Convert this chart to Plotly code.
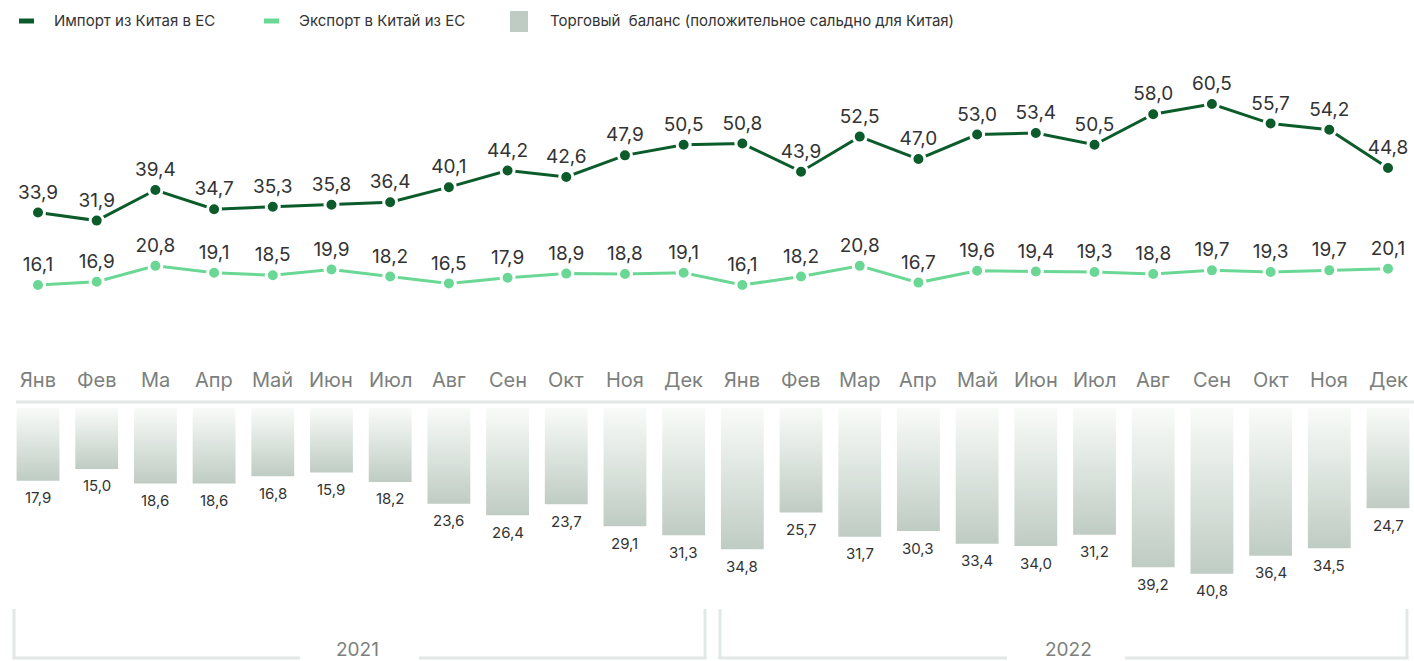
import plotly.graph_objects as go

W, H = 1414, 661

months = ["Янв", "Фев", "Ма", "Апр", "Май", "Июн", "Июл", "Авг", "Сен", "Окт", "Ноя", "Дек",
          "Янв", "Фев", "Мар", "Апр", "Май", "Июн", "Июл", "Авг", "Сен", "Окт", "Ноя", "Дек"]
years = ["2021", "2022"]
imports = [33.9, 31.9, 39.4, 34.7, 35.3, 35.8, 36.4, 40.1, 44.2, 42.6, 47.9, 50.5,
           50.8, 43.9, 52.5, 47.0, 53.0, 53.4, 50.5, 58.0, 60.5, 55.7, 54.2, 44.8]
exports = [16.1, 16.9, 20.8, 19.1, 18.5, 19.9, 18.2, 16.5, 17.9, 18.9, 18.8, 19.1,
           16.1, 18.2, 20.8, 16.7, 19.6, 19.4, 19.3, 18.8, 19.7, 19.3, 19.7, 20.1]
balance = [17.9, 15.0, 18.6, 18.6, 16.8, 15.9, 18.2, 23.6, 26.4, 23.7, 29.1, 31.3,
           34.8, 25.7, 31.7, 30.3, 33.4, 34.0, 31.2, 39.2, 40.8, 36.4, 34.5, 24.7]
legend_labels = ["Импорт из Китая в ЕС", "Экспорт в Китай из ЕС",
                 "Торговый  баланс (положительное сальдно для Китая)"]

C_IMP = "#0c5c2b"
C_EXP = "#6ad894"
C_BAR = "#bfccc3"
C_TXT = "#333333"
C_GRAY = "#7b807d"
C_LINE = "#e2e8e5"
FONT = "Inter, Roboto, sans-serif"


def fmt(v):
    return f"{v:.1f}".replace(".", ",")


def px(x):
    return x / W


def py(y):
    return 1 - y / H


x = list(range(len(months)))
fig = go.Figure()

# balance bars (gradient-filled rectangles hanging down from zero)
half = 0.365
for i, v in enumerate(balance):
    fig.add_trace(go.Scatter(
        x=[i - half, i + half, i + half, i - half, i - half],
        y=[0, 0, -v, -v, 0],
        mode="lines", fill="toself", line=dict(width=0),
        fillgradient=dict(type="vertical", colorscale=[[0, C_BAR], [1, "#f9fbf9"]]),
        yaxis="y2", hoverinfo="skip", showlegend=False))

for vals, col in ((exports, C_EXP), (imports, C_IMP)):
    fig.add_trace(go.Scatter(
        x=x, y=vals, mode="lines+markers+text",
        text=[fmt(v) for v in vals], textposition="top center",
        textfont=dict(size=19, color=C_TXT, family=FONT),
        line=dict(color=col, width=3),
        marker=dict(size=13, color=col, line=dict(color="white", width=3)),
        showlegend=False, cliponaxis=False))

shapes = []
annotations = []

# bar value labels
for i, v in enumerate(balance):
    annotations.append(dict(x=i, y=-v, xref="x", yref="y2", text=fmt(v), yshift=-17,
                            showarrow=False, font=dict(size=15, color=C_TXT, family=FONT),
                            xanchor="center", yanchor="middle"))

# month labels
for i, m in enumerate(months):
    annotations.append(dict(x=i, y=py(380), xref="x", yref="paper", text=m,
                            showarrow=False, font=dict(size=20, color=C_GRAY, family=FONT),
                            xanchor="center", yanchor="middle"))

# zero line for bars
shapes.append(dict(type="line", xref="paper", yref="paper", x0=px(16), x1=px(1414),
                   y0=py(402), y1=py(402), line=dict(color=C_LINE, width=3)))

# year brackets
brackets = [(14, 705, 300, 419, 357), (720, 1407, 1007, 1125, 1068)]
for (l, r, g0, g1, tx), yr in zip(brackets, years):
    for xx in (l, r):
        shapes.append(dict(type="line", xref="paper", yref="paper", x0=px(xx), x1=px(xx),
                           y0=py(609), y1=py(659), line=dict(color=C_LINE, width=3)))
    shapes.append(dict(type="line", xref="paper", yref="paper", x0=px(l - 1.5), x1=px(g0),
                       y0=py(658), y1=py(658), line=dict(color=C_LINE, width=3)))
    shapes.append(dict(type="line", xref="paper", yref="paper", x0=px(g1), x1=px(r + 1.5),
                       y0=py(658), y1=py(658), line=dict(color=C_LINE, width=3)))
    annotations.append(dict(x=px(tx), y=py(649), xref="paper", yref="paper", text=yr,
                            showarrow=False, font=dict(size=19, color=C_GRAY, family=FONT),
                            xanchor="center", yanchor="middle"))

# legend
shapes.append(dict(type="line", xref="paper", yref="paper", x0=px(19), x1=px(34),
                   y0=py(21), y1=py(21), line=dict(color=C_IMP, width=5)))
shapes.append(dict(type="line", xref="paper", yref="paper", x0=px(264), x1=px(279),
                   y0=py(21), y1=py(21), line=dict(color=C_EXP, width=5)))
shapes.append(dict(type="rect", xref="paper", yref="paper", x0=px(510), x1=px(528),
                   y0=py(32), y1=py(11), fillcolor=C_BAR, line=dict(width=0)))
for tx, lab in zip((52, 297, 548), legend_labels):
    annotations.append(dict(x=px(tx), y=py(21), xref="paper", yref="paper", text=lab,
                            showarrow=False, font=dict(size=15, color=C_TXT, family=FONT),
                            xanchor="left", yanchor="middle"))

x0px, dx = 38, (1388 - 38) / 23
fig.update_layout(
    width=W, height=H, margin=dict(l=0, r=0, t=0, b=0),
    paper_bgcolor="white", plot_bgcolor="white",
    xaxis=dict(range=[-x0px / dx, (W - x0px) / dx], visible=False, fixedrange=True),
    yaxis=dict(range=[-76.1, 86.0], visible=False, domain=[0, 1], fixedrange=True),
    yaxis2=dict(range=[-62.3, 100.5], visible=False, overlaying="y", fixedrange=True),
    shapes=shapes, annotations=annotations, showlegend=False,
    separators=", ", hovermode=False,
)

fig.write_html("out.html", config={"displayModeBar": False},
               post_script="document.body.style.margin='0';document.body.style.overflow='hidden';")
